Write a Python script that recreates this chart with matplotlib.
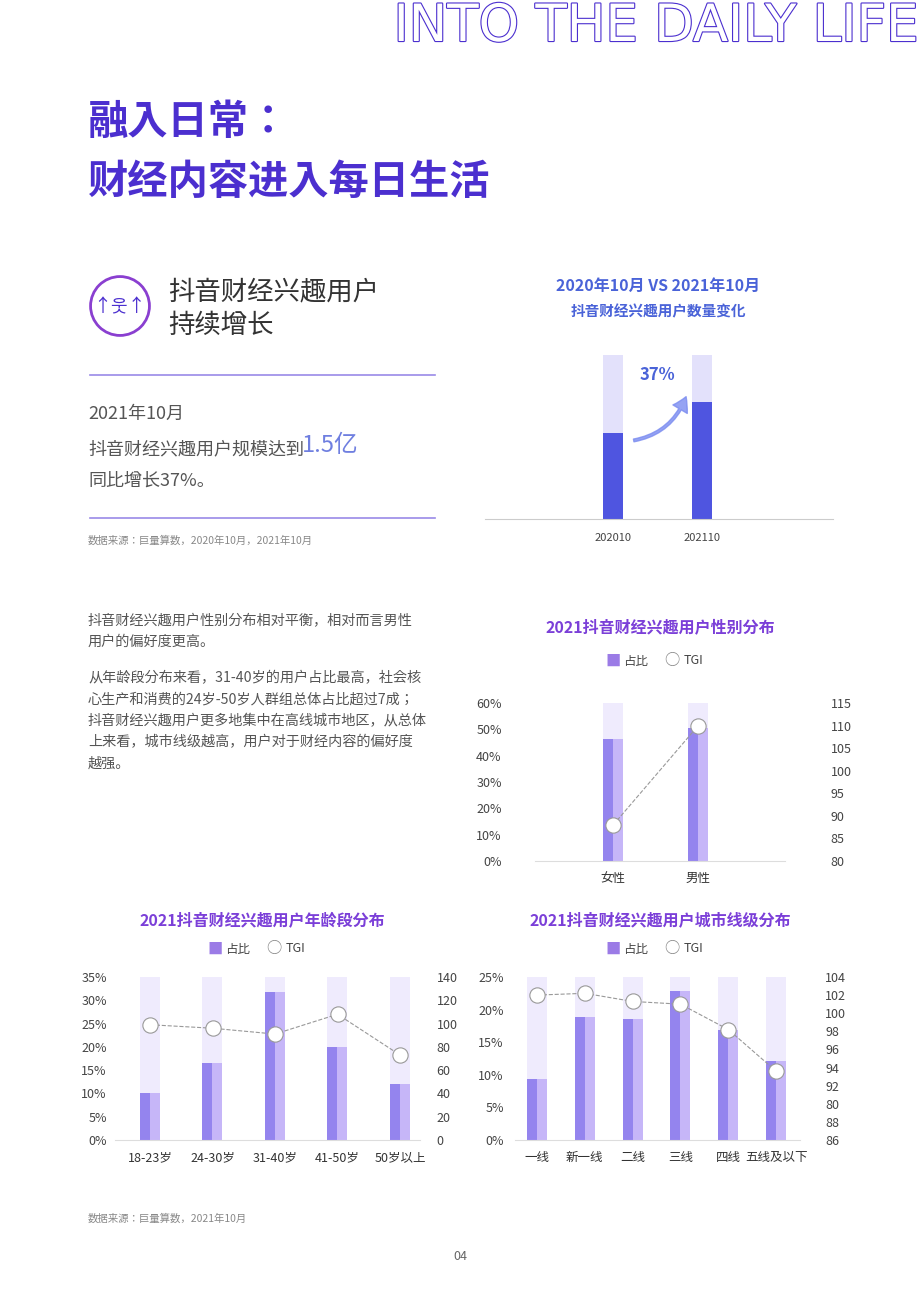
import matplotlib.pyplot as plt
import matplotlib.patheffects as pe
from matplotlib import font_manager as fm
from matplotlib.patches import Circle

cjk_names = sorted(set(f.name for f in fm.fontManager.ttflist if 'CJK' in f.name))
pick = [n for n in cjk_names if 'SC' in n] or cjk_names
if pick:
    plt.rcParams['font.family'] = [pick[0], 'DejaVu Sans']

# data
growth_cats = ['202010', '202110']
growth_vals = [1.1, 1.5]

gender_cats = ['女性', '男性']
gender_share = [46.5, 50.5]
gender_tgi = [88, 110]

age_cats = ['18-23岁', '24-30岁', '31-40岁', '41-50岁', '50岁以上']
age_share = [10.0, 16.5, 31.8, 20.0, 12.0]
age_tgi = [99, 96, 91, 108, 73]

city_cats = ['一线', '新一线', '二线', '三线', '四线', '五线及以下']
city_share = [9.3, 18.8, 18.5, 22.8, 16.8, 12.1]
city_tgi = [102.0, 102.2, 101.3, 101.0, 98.2, 93.6]
city_right_labels = ['86', '88', '80', '92', '94', '96', '98', '100', '102', '104']

W, H = 920, 1302
fig = plt.figure(figsize=(W / 100, H / 100), dpi=100)

PURPLE = '#4b2fcf'
TITLE_PURPLE = '#7b3fd8'
DARK = '#9484ee'
LIGHT = '#c6b6f8'
BG = '#efebfd'
GREY = '#555555'


def fx(x):
    return x / W


def fy(y):
    return 1 - y / H


def txt(x, y, s, **kw):
    fig.text(fx(x), fy(y), s, **kw)


def add_ax(l, t, r, b):
    return fig.add_axes([fx(l), fy(b), fx(r) - fx(l), (b - t) / H])


# header
txt(918, 2, 'INTO THE DAILY LIFE', fontsize=37, color='white', ha='right', va='top',
    family='DejaVu Sans',
    path_effects=[pe.withStroke(linewidth=1.6, foreground=PURPLE)])
txt(88, 122, '融入日常：', fontsize=29, color=PURPLE, weight='bold', va='center')
txt(88, 182, '财经内容进入每日生活', fontsize=29, color=PURPLE, weight='bold', va='center')

# icon
icon = fig.add_axes([fx(88), fy(338), 64 / W, 64 / H])
icon.set_xlim(-1, 1); icon.set_ylim(-1, 1); icon.axis('off')
icon.add_patch(Circle((0, 0), 0.92, fill=False, lw=2, ec='#8a3fd0'))
icon.text(0, -0.05, '↑웃↑', ha='center', va='center', fontsize=13, color=PURPLE)
txt(168, 292, '抖音财经兴趣用户', fontsize=19, color='#333333', va='center')
txt(168, 325, '持续增长', fontsize=19, color='#333333', va='center')

fig.add_artist(plt.Line2D([fx(90), fx(435)], [fy(375), fy(375)], color='#9a8ae8', lw=1.2))
txt(88, 414, '2021年10月', fontsize=13, color=GREY, va='center')
txt(88, 449, '抖音财经兴趣用户规模达到', fontsize=13, color=GREY, va='center')
txt(302, 446, '1.5亿', fontsize=17, color='#6f7fe0', va='center')
txt(88, 481, '同比增长37%。', fontsize=13, color=GREY, va='center')
fig.add_artist(plt.Line2D([fx(90), fx(435)], [fy(518), fy(518)], color='#9a8ae8', lw=1.2))
txt(88, 541, '数据来源：巨量算数，2020年10月，2021年10月', fontsize=7.5, color='#888888', va='center')

# growth chart
txt(658, 286, '2020年10月 VS 2021年10月', fontsize=11.5, color='#4a63d8', weight='bold', ha='center', va='center')
txt(658, 311, '抖音财经兴趣用户数量变化', fontsize=10.5, color='#4a63d8', weight='bold', ha='center', va='center')
ax = add_ax(485, 355, 833, 519)
x = [0, 1]
ax.bar(x, [2.1, 2.1], width=0.22, color='#e3e1fb')
ax.bar(x, growth_vals, width=0.22, color='#4f55e0')
ax.set_xlim(-1.44, 2.47); ax.set_ylim(0, 2.1)
ax.set_xticks(x, growth_cats, fontsize=8, color='#444444')
ax.tick_params(length=0, pad=10)
ax.set_yticks([])
for s in ['top', 'right', 'left']:
    ax.spines[s].set_visible(False)
ax.spines['bottom'].set_color('#cccccc')
ax.annotate('', xy=(0.83, 1.6), xytext=(0.2, 1.0),
            arrowprops=dict(arrowstyle='simple,head_width=1.2,head_length=1', color='#7b8cf0',
                            connectionstyle='arc3,rad=0.3', alpha=0.8))
ax.text(0.5, 1.85, '37%', ha='center', va='center', fontsize=12, color='#4a63d8', weight='bold')

# left paragraph
para = ['抖音财经兴趣用户性别分布相对平衡，相对而言男性', '用户的偏好度更高。']
para2 = ['从年龄段分布来看，31-40岁的用户占比最高，社会核', '心生产和消费的24岁-50岁人群组总体占比超过7成；',
         '抖音财经兴趣用户更多地集中在高线城市地区，从总体', '上来看，城市线级越高，用户对于财经内容的偏好度', '越强。']
for i, l in enumerate(para):
    txt(88, 621 + i * 21, l, fontsize=10.2, color=GREY, va='center')
for i, l in enumerate(para2):
    txt(88, 678 + i * 21.5, l, fontsize=10.2, color=GREY, va='center')


def legend(cx, y):
    txt(cx - 47, y, '■', fontsize=11, color='#9b7be6', va='center', ha='center')
    txt(cx - 37, y, '占比', fontsize=9, color='#444444', va='center')
    txt(cx + 12, y, '○', fontsize=11, color='#888888', va='center', ha='center')
    txt(cx + 24, y, 'TGI', fontsize=9, color='#444444', va='center')


def combo(box, cats, share, tgi, ymax, ystep, rlim, rticks, rlabels, xlim, lpad, rpad):
    ax = add_ax(*box)
    n = len(cats)
    xs = list(range(n))
    w = 10 / (box[2] - box[0]) * (xlim[1] - xlim[0])
    ax.bar(xs, [ymax] * n, width=w * 2, color=BG)
    ax.bar([v - w / 2 for v in xs], share, width=w, color=DARK)
    ax.bar([v + w / 2 for v in xs], share, width=w, color=LIGHT)
    ax.set_xlim(*xlim); ax.set_ylim(0, ymax)
    k = int(round(ymax / ystep)) + 1
    ax.set_yticks([i * ystep for i in range(k)], [f'{i * ystep:.0f}%' for i in range(k)])
    ax.set_xticks(xs, cats)
    ax.tick_params(axis='y', length=0, pad=lpad, labelsize=9, labelcolor='#444444')
    ax.tick_params(axis='x', length=0, pad=8, labelsize=9, labelcolor='#333333')
    for s in ['top', 'right', 'left']:
        ax.spines[s].set_visible(False)
    ax.spines['bottom'].set_color('#dddddd')
    ax2 = ax.twinx()
    ax2.plot(xs, tgi, ls='--', lw=0.8, color='#999999', marker='o', ms=11,
             mfc='white', mec='#999999', mew=0.8)
    ax2.set_ylim(*rlim)
    ax2.set_yticks(rticks, rlabels)
    ax2.tick_params(length=0, pad=rpad, labelsize=9, labelcolor='#444444')
    for s in ax2.spines.values():
        s.set_visible(False)
    return ax


# gender
txt(660, 627, '2021抖音财经兴趣用户性别分布', fontsize=11.5, color=TITLE_PURPLE, weight='bold', ha='center', va='center')
legend(660, 661)
combo((535, 703, 785, 861), gender_cats, gender_share, gender_tgi, 60, 10, (80, 115),
      list(range(80, 116, 5)), [str(v) for v in range(80, 116, 5)], (-0.92, 2.02), 24, 33)

# age
txt(262, 920, '2021抖音财经兴趣用户年龄段分布', fontsize=11.5, color=TITLE_PURPLE, weight='bold', ha='center', va='center')
legend(262, 949)
combo((115, 977, 420, 1140), age_cats, age_share, age_tgi, 35, 5, (0, 140),
      list(range(0, 141, 20)), [str(v) for v in range(0, 141, 20)], (-0.56, 4.32), 6, 12)

# city
txt(660, 920, '2021抖音财经兴趣用户城市线级分布', fontsize=11.5, color=TITLE_PURPLE, weight='bold', ha='center', va='center')
legend(660, 949)
combo((515, 977, 800, 1140), city_cats, city_share, city_tgi, 25, 5, (86, 104),
      list(range(86, 105, 2)), city_right_labels, (-0.46, 5.5), 8, 18)

txt(88, 1219, '数据来源：巨量算数，2021年10月', fontsize=7.5, color='#888888', va='center')
txt(460, 1257, '04', fontsize=9, color='#666666', ha='center', va='center')

fig.savefig('out.png', dpi=100, facecolor='white')
